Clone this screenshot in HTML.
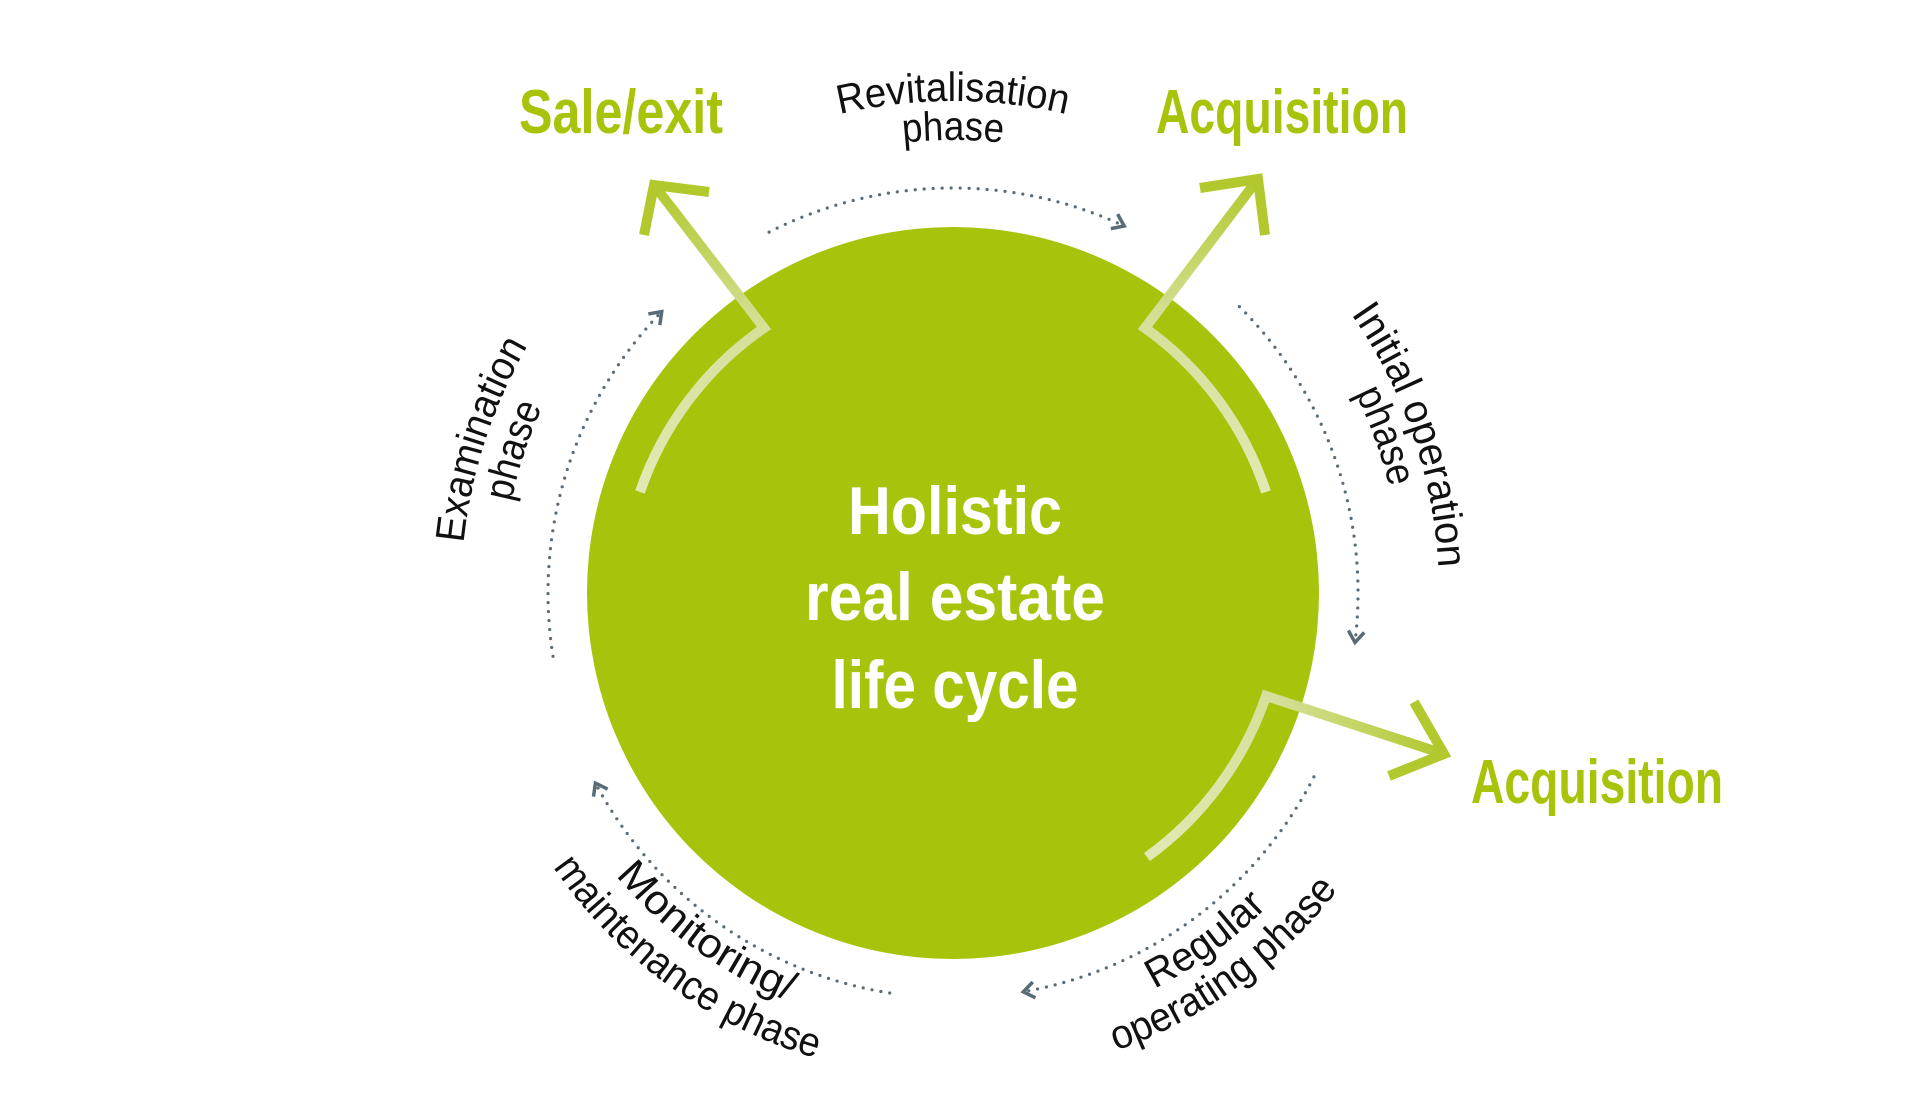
<!DOCTYPE html>
<html><head><meta charset="utf-8"><style>
html,body{margin:0;padding:0;background:#fff;}
svg{display:block;}
text{font-family:"Liberation Sans",sans-serif;}
</style></head><body>
<svg width="1928" height="1100" viewBox="0 0 1928 1100" xmlns="http://www.w3.org/2000/svg">
<defs>
<marker id="ah" viewBox="0 0 16 20" refX="13" refY="10" markerWidth="16" markerHeight="20" markerUnits="userSpaceOnUse" orient="auto">
<path d="M2,2 L13,10 L2,18" fill="none" stroke="#5a6b78" stroke-width="3.5"/>
</marker>
<linearGradient id="g1" gradientUnits="userSpaceOnUse" x1="645" y1="492" x2="659" y2="185"><stop offset="0" stop-color="#e2e9b4"/><stop offset="0.55" stop-color="#d6e09a"/><stop offset="1" stop-color="#b2c82c"/></linearGradient>
<linearGradient id="g2" gradientUnits="userSpaceOnUse" x1="1271" y1="492" x2="1263" y2="179"><stop offset="0" stop-color="#e2e9b4"/><stop offset="0.55" stop-color="#d6e09a"/><stop offset="1" stop-color="#b2c82c"/></linearGradient>
<linearGradient id="g3" gradientUnits="userSpaceOnUse" x1="1152" y1="857" x2="1449" y2="754"><stop offset="0" stop-color="#e2e9b4"/><stop offset="0.55" stop-color="#d6e09a"/><stop offset="1" stop-color="#b2c82c"/></linearGradient>
<path id="p1" d="M531.9,347 A492,492 0 0 1 1384.1,347"/>
<path id="p2" d="M565.7,366.5 A453,453 0 0 1 1350.3,366.5"/>
<path id="p3" d="M592.4,922.2 A492,492 0 0 1 855.7,111.8"/>
<path id="p4" d="M622.9,894.8 A451,451 0 0 1 864.2,151.9"/>
<path id="p5" d="M1050.7,115.9 A486,486 0 0 1 1324.8,911.9"/>
<path id="p6" d="M1036,150.8 A449,449 0 0 1 1301.9,881.6"/>
<path id="p7" d="M777.4,998.6 A444,444 0 0 0 1399.6,546.6"/>
<path id="p8" d="M760.3,1037 A486,486 0 0 0 1441.3,542.2"/>
<path id="p9" d="M520.4,547 A440,440 0 0 0 1136.9,994.9"/>
<path id="p10" d="M475.7,542.3 A485,485 0 0 0 1155.2,1036"/>
</defs>
<g transform="translate(-5,0)">
<circle cx="958" cy="593" r="366" fill="#a8c30b"/>

<g fill="none" stroke="#5a6b78" stroke-width="3.2" stroke-linecap="round" stroke-dasharray="0 9">
<path d="M774.1,232.1 A405,405 0 0 1 1129.2,226" marker-end="url(#ah)"/>
<path d="M1244.4,306.6 A405,405 0 0 1 1360,642.4" marker-end="url(#ah)"/>
<path d="M1318.9,776.9 A405,405 0 0 1 1028.3,991.8" marker-end="url(#ah)"/>
<path d="M894.7,993 A405,405 0 0 1 600.4,783.1" marker-end="url(#ah)"/>
<path d="M558,656.3 A405,405 0 0 1 666.7,311.6" marker-end="url(#ah)"/>
</g>

<g fill="none" stroke-width="10" stroke-linejoin="miter">
<path d="M645,492 A328,328 0 0 1 769,328 L659,185" stroke="url(#g1)"/>
<path d="M714,192 L659,185 L649,235" stroke="#b2c82c"/>
<path d="M1271,492 A328,328 0 0 0 1150,328 L1263,179" stroke="url(#g2)"/>
<path d="M1205,188 L1263,179 L1270,235" stroke="#b2c82c"/>
<path d="M1152,857 A328,328 0 0 0 1271,696 L1449,754" stroke="url(#g3)"/>
<path d="M1419,702 L1449,754 L1394,776" stroke="#b2c82c"/>
</g>

<g fill="#a9c20a" font-weight="bold" font-size="62">
<text x="524" y="133" textLength="204" lengthAdjust="spacingAndGlyphs">Sale/exit</text>
<text x="1161" y="133" textLength="252" lengthAdjust="spacingAndGlyphs">Acquisition</text>
<text x="1476" y="803" textLength="252" lengthAdjust="spacingAndGlyphs">Acquisition</text>
</g>

<g fill="#fff" font-weight="bold" font-size="68" text-anchor="middle">
<text x="960" y="534" textLength="214" lengthAdjust="spacingAndGlyphs">Holistic</text>
<text x="960" y="620" textLength="300" lengthAdjust="spacingAndGlyphs">real estate</text>
<text x="960" y="708" textLength="247" lengthAdjust="spacingAndGlyphs">life cycle</text>
</g>

<g fill="#111" font-size="41" text-anchor="middle">
<text><textPath href="#p1" startOffset="50%" textLength="229" lengthAdjust="spacingAndGlyphs">Revitalisation</textPath></text>
<text><textPath href="#p2" startOffset="50%" textLength="100" lengthAdjust="spacingAndGlyphs">phase</textPath></text>
<text><textPath href="#p3" startOffset="50%" textLength="209" lengthAdjust="spacingAndGlyphs">Examination</textPath></text>
<text><textPath href="#p4" startOffset="50%" textLength="100" lengthAdjust="spacingAndGlyphs">phase</textPath></text>
<text><textPath href="#p5" startOffset="50%" textLength="272" lengthAdjust="spacingAndGlyphs">Initial operation</textPath></text>
<text><textPath href="#p6" startOffset="50%" textLength="100" lengthAdjust="spacingAndGlyphs">phase</textPath></text>
<text><textPath href="#p7" startOffset="50%" textLength="140" lengthAdjust="spacingAndGlyphs">Regular</textPath></text>
<text><textPath href="#p8" startOffset="50%" textLength="278" lengthAdjust="spacingAndGlyphs">operating phase</textPath></text>
<text><textPath href="#p9" startOffset="50%" textLength="216" lengthAdjust="spacingAndGlyphs">Monitoring/</textPath></text>
<text><textPath href="#p10" startOffset="50%" textLength="331" lengthAdjust="spacingAndGlyphs">maintenance phase</textPath></text>
</g>
</g>
</svg>
</body></html>
